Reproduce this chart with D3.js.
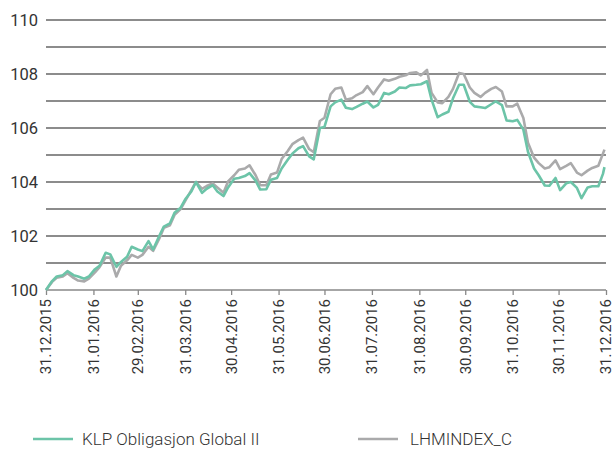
<!DOCTYPE html>
<html>
<head>
<meta charset="utf-8">
<script src="https://cdn.jsdelivr.net/npm/d3@7"></script>
<style>
  body { margin: 0; background: #fff; }
  svg text { font-family: Roboto, "Open Sans", sans-serif; fill: #333; }
  .grid line { stroke: #666; stroke-width: 1.3; }
  .xaxis path, .xaxis line { stroke: #888; stroke-width: 1.3; }
</style>
</head>
<body>
<div id="chart"></div>
<script>
// Datoer (ca. to punkter per uke)
const datoer = [
  "2015-12-31","2016-01-04","2016-01-07","2016-01-11","2016-01-14","2016-01-18","2016-01-21","2016-01-25","2016-01-28",
  "2016-02-01","2016-02-04","2016-02-08","2016-02-11","2016-02-15","2016-02-18","2016-02-22","2016-02-25","2016-02-29",
  "2016-03-03","2016-03-07","2016-03-10","2016-03-14","2016-03-17","2016-03-21","2016-03-24","2016-03-28","2016-03-31",
  "2016-04-04","2016-04-07","2016-04-11","2016-04-14","2016-04-18","2016-04-21","2016-04-25","2016-04-28",
  "2016-05-02","2016-05-05","2016-05-09","2016-05-12","2016-05-16","2016-05-19","2016-05-23","2016-05-26","2016-05-30",
  "2016-06-02","2016-06-06","2016-06-09","2016-06-13","2016-06-16","2016-06-20","2016-06-23","2016-06-27","2016-06-30",
  "2016-07-04","2016-07-07","2016-07-11","2016-07-14","2016-07-18","2016-07-21","2016-07-25","2016-07-28",
  "2016-08-01","2016-08-04","2016-08-08","2016-08-11","2016-08-15","2016-08-18","2016-08-22","2016-08-25","2016-08-29",
  "2016-09-01","2016-09-05","2016-09-08","2016-09-12","2016-09-15","2016-09-19","2016-09-22","2016-09-26","2016-09-29",
  "2016-10-03","2016-10-06","2016-10-10","2016-10-13","2016-10-17","2016-10-20","2016-10-24","2016-10-27","2016-10-31",
  "2016-11-03","2016-11-07","2016-11-10","2016-11-14","2016-11-17","2016-11-21","2016-11-24","2016-11-28",
  "2016-12-01","2016-12-05","2016-12-08","2016-12-12","2016-12-15","2016-12-19","2016-12-22","2016-12-26","2016-12-29","2016-12-30"
];

const klp = [
  100.0,100.33,100.5,100.55,100.7,100.55,100.5,100.42,100.5,
  100.77,100.9,101.38,101.32,100.86,101.04,101.23,101.6,101.5,
  101.44,101.81,101.5,102.0,102.35,102.47,102.86,103.05,103.36,
  103.65,104.0,103.6,103.75,103.88,103.65,103.48,103.8,
  104.12,104.15,104.22,104.33,104.05,103.72,103.73,104.08,104.15,
  104.5,104.82,105.05,105.25,105.33,104.95,104.84,106.0,106.04,
  106.8,106.95,107.05,106.75,106.7,106.78,106.9,106.98,
  106.76,106.86,107.3,107.25,107.35,107.5,107.48,107.58,107.6,
  107.62,107.73,107.05,106.4,106.5,106.6,107.1,107.6,107.6,
  106.97,106.8,106.77,106.74,106.88,106.99,106.85,106.28,106.25,
  106.3,105.94,105.12,104.5,104.25,103.87,103.86,104.15,
  103.7,103.95,104.0,103.78,103.4,103.8,103.84,103.84,104.3,104.55
];

const lhm = [
  100.0,100.3,100.45,100.5,100.62,100.45,100.35,100.32,100.42,
  100.65,100.85,101.2,101.2,100.5,100.9,101.1,101.3,101.2,
  101.3,101.6,101.45,101.9,102.3,102.4,102.78,103.0,103.3,
  103.7,104.0,103.75,103.85,103.95,103.8,103.6,104.02,
  104.25,104.45,104.5,104.62,104.25,103.88,103.88,104.28,104.35,
  104.85,105.15,105.4,105.55,105.64,105.22,105.1,106.26,106.38,
  107.25,107.45,107.5,107.05,107.1,107.22,107.33,107.55,
  107.25,107.5,107.8,107.75,107.82,107.9,107.95,108.04,108.06,
  107.95,108.15,107.3,106.95,106.92,107.15,107.45,108.04,108.0,
  107.5,107.3,107.15,107.3,107.45,107.52,107.35,106.8,106.8,
  106.9,106.37,105.45,104.9,104.7,104.5,104.55,104.8,
  104.48,104.6,104.7,104.35,104.25,104.42,104.52,104.6,105.05,105.2
];

const tickDatoer = [
  "2015-12-31","2016-01-31","2016-02-29","2016-03-31","2016-04-30","2016-05-31","2016-06-30",
  "2016-07-31","2016-08-31","2016-09-30","2016-10-31","2016-11-30","2016-12-31"
];
const tickEtiketter = [
  "31.12.2015","31.01.2016","29.02.2016","31.03.2016","30.04.2016","31.05.2016","30.06.2016",
  "31.07.2016","31.08.2016","30.09.2016","31.10.2016","30.11.2016","31.12.2016"
];
const yTicks = [100, 102, 104, 106, 108, 110];

const serier = [
  { navn: "LHMINDEX_C", verdier: lhm, farge: "#aaaaab" },
  { navn: "KLP Obligasjon Global II", verdier: klp, farge: "#6cc4a8" }
];

const W = 614, H = 453;
const margin = { top: 20, right: 8, bottom: 163, left: 46 };
const width = W - margin.left - margin.right;
const height = H - margin.top - margin.bottom;

const parse = d3.timeParse("%Y-%m-%d");

const svg = d3.select("#chart")
  .append("svg")
    .attr("width", W)
    .attr("height", H)
  .append("g")
    .attr("transform", `translate(${margin.left},${margin.top})`);

const x = d3.scaleTime()
  .domain([parse(tickDatoer[0]), parse(tickDatoer[tickDatoer.length - 1])])
  .range([0, width]);

const y = d3.scaleLinear()
  .domain([100, 110])
  .range([height, 0]);

// Rutenett hver hele enhet
svg.append("g")
  .attr("class", "grid")
  .selectAll("line")
  .data(d3.range(101, 111))
  .join("line")
    .attr("x1", 0)
    .attr("x2", width)
    .attr("y1", d => y(d))
    .attr("y2", d => y(d));

// Y-etiketter
svg.append("g")
  .selectAll("text")
  .data(yTicks)
  .join("text")
    .attr("x", -8)
    .attr("y", d => y(d))
    .attr("dy", "0.35em")
    .attr("text-anchor", "end")
    .style("font-size", "16.5px")
    .text(d => d);

// X-akse
const xAxis = svg.append("g")
  .attr("class", "xaxis")
  .attr("transform", `translate(0,${height})`)
  .call(d3.axisBottom(x)
    .tickValues(tickDatoer.map(parse))
    .tickSize(5)
    .tickFormat((d, i) => tickEtiketter[i]));

xAxis.select(".domain").attr("d", `M0,0H${width}`);

xAxis.selectAll("text")
  .attr("transform", "rotate(-90)")
  .attr("x", -9)
  .attr("y", 0)
  .attr("dy", "0.33em")
  .attr("text-anchor", "end")
  .style("font-size", "15px")
  .style("font-family", "Roboto, sans-serif")
  .attr("fill", "#333");

// Linjer
const linje = d3.line()
  .x((v, i) => x(parse(datoer[i])))
  .y(v => y(v));

svg.selectAll(".line")
  .data(serier)
  .join("path")
    .attr("class", "line")
    .attr("fill", "none")
    .attr("stroke", d => d.farge)
    .attr("stroke-width", 2.6)
    .attr("stroke-linejoin", "round")
    .attr("d", d => linje(d.verdier));

// Legende
const legende = d3.select("svg").append("g");
const legendeData = [
  { navn: "KLP Obligasjon Global II", farge: "#6cc4a8", x: 33 },
  { navn: "LHMINDEX_C", farge: "#aaaaab", x: 358 }
];
const lg = legende.selectAll("g")
  .data(legendeData)
  .join("g")
    .attr("transform", d => `translate(${d.x},439)`);
lg.append("line")
  .attr("x1", 0).attr("x2", 40)
  .attr("stroke", d => d.farge)
  .attr("stroke-width", 2.6);
lg.append("text")
  .attr("x", d => d.x === 33 ? 49 : 52)
  .attr("dy", "0.35em")
  .style("font-size", "17px")
  .style("font-weight", 300)
  .text(d => d.navn);
</script>
</body>
</html>
